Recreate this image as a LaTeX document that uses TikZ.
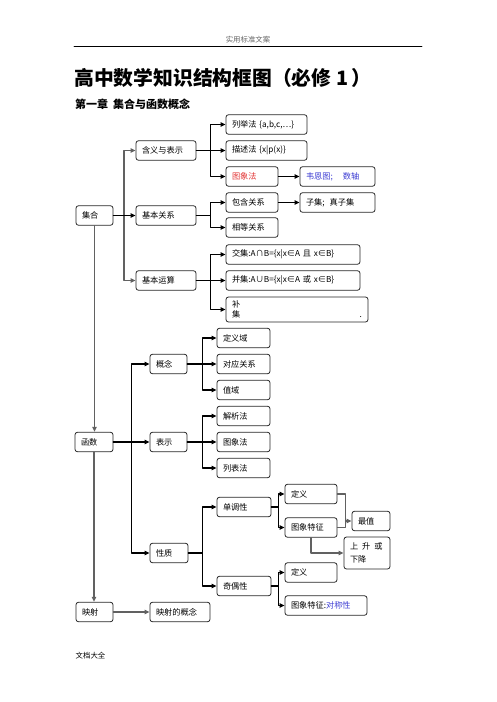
\documentclass[tikz,border=0pt]{standalone}
\usepackage{fontspec}
\newfontfamily\cjk{Noto Sans CJK SC}
\usepackage{tikz}
\usetikzlibrary{arrows.meta}

\definecolor{redtxt}{RGB}{225,50,50}
\definecolor{bluetxt}{RGB}{60,60,210}
\newcommand{\boxfont}{\cjk\fontsize{8.2}{11}\selectfont}
\tikzset{
  box/.style={draw=black!85,line width=0.8pt,rounded corners=2.5pt,inner xsep=6pt,inner ysep=0pt,
    minimum height=19.5pt,align=left,font=\boxfont},
  bline/.style={line width=1.1pt,draw=black},
  gline/.style={line width=1.3pt,draw=black!62}
}

\begin{document}
\begin{tikzpicture}[line cap=round,line join=round,>={Triangle[length=5pt,width=4.4pt]},x=1pt,y=-1pt]
\useasboundingbox (0,0) rectangle (496,702);
% header and titles
\node[text=black!60] (hd) at (248,40) {\cjk\fontsize{7.4}{9}\selectfont 实用标准文案};
\draw [line width=0.7pt] (74,46) -- (422,46);
\node[anchor=west,inner sep=0pt] (tt) at (74,78) {\cjk\bfseries\fontsize{19.8}{22}\selectfont 高中数学知识结构框图（必修\ 1\,）};
\node[anchor=west,inner sep=0pt] (st) at (75,104) {\cjk\bfseries\fontsize{11}{13}\selectfont 第一章\hspace{5pt}集合与函数概念};
% sets
\node[box,text width=25pt] (jh) at (94.5,215.5) {集合};
\node[box,text width=48pt] (hy) at (166,150.5) {含义与表示};
\node[box,text width=48pt] (gx) at (166,215.5) {基本关系};
\node[box,text width=48pt] (ys) at (166,280.5) {基本运算};
\node[box,text width=69pt] (lj) at (266.5,124.5) {列举法\ \{a,b,c,…\}};
\node[box,text width=69pt] (ms) at (266.5,150.5) {描述法\ \{x|p(x)\}};
\node[box,text width=40pt,text=redtxt] (tx) at (252,176.5) {图象法};
\node[box,text width=63pt,text=bluetxt] (wn) at (337.5,176.5) {韦恩图;\hspace{10pt}数轴};
\node[box,text width=40pt] (bh) at (252,202.5) {包含关系};
\node[box,text width=63pt] (zj) at (337.5,202.5) {子集;\hspace{5pt}真子集};
\node[box,text width=40pt] (xd) at (252,227.5) {相等关系};
\node[box,text width=122pt] (jj) at (293,254.5) {交集:A∩B=\{x|x∈A 且 x∈B\}};
\node[box,text width=122pt] (bj) at (293,280.5) {并集:A∪B=\{x|x∈A 或 x∈B\}};
\node[box,text width=130pt,minimum height=25pt,font=\cjk\fontsize{8.2}{10.5}\selectfont] (bu) at (297,309.5) {补\\集\hfill .};
% functions
\node[box,text width=26pt] (hs) at (94,442) {函数};
\node[box,text width=25pt] (gn) at (168.5,364) {概念};
\node[box,text width=25pt] (bs) at (168.5,442) {表示};
\node[box,text width=26pt] (xz) at (169,553) {性质};
\node[box,text width=41pt] (dy) at (243.5,338) {定义域};
\node[box,text width=41pt] (dyg) at (243.5,364) {对应关系};
\node[box,text width=41pt] (zy) at (243.5,390) {值域};
\node[box,text width=41pt] (jx) at (243.5,416) {解析法};
\node[box,text width=41pt] (txf) at (243.5,442) {图象法};
\node[box,text width=41pt] (lb) at (243.5,468) {列表法};
\node[box,text width=42pt] (dd) at (244,507) {单调性};
\node[box,text width=42pt] (jo) at (244,586) {奇偶性};
\node[box,text width=40pt] (dyA) at (311,494) {定义};
\node[box,text width=40pt] (tzA) at (311,527.5) {图象特征};
\node[box,text width=26pt] (zz) at (371,521) {最值};
\node[box,text width=34pt,minimum height=32pt,font=\cjk\fontsize{8.2}{12.5}\selectfont] (ss) at (367,553) {上\hspace{4pt}升\hspace{4pt}或\\下降};
\node[box,text width=40pt] (dyB) at (311,572.5) {定义};
\node[box,text width=70pt] (tzB) at (326,605.5) {图象特征:\textcolor{bluetxt}{对称性}};
% mapping
\node[box,text width=25pt] (yx) at (94.5,612) {映射};
\node[box,text width=48pt] (yxg) at (180,612) {映射的概念};
\node[anchor=west,inner sep=0pt] (ft) at (75.5,656) {\cjk\fontsize{7.4}{9}\selectfont 文档大全};
% connectors, sets
\draw [->,gline] (jh.east) -- +(10.5,0) |- (hy.west);
\draw [->,gline] (jh.east) -- +(10.5,0) |- (ys.west);
\draw [->,bline] (jh.east) -- (gx.west);
\draw [->,bline] (hy.east) -- +(14.5,0) |- (lj.west);
\draw [->,bline] (hy.east) -- +(14.5,0) |- (ms.west);
\draw [->,bline] (hy.east) -- +(14.5,0) |- (tx.west);
\draw [->,bline] (tx.east) -- (wn.west);
\draw [->,bline] (gx.east) -- +(14.5,0) |- (bh.west);
\draw [->,bline] (gx.east) -- +(14.5,0) |- (xd.west);
\draw [->,bline] (bh.east) -- (zj.west);
\draw [->,bline] (ys.east) -- +(14.5,0) |- (jj.west);
\draw [->,bline] (ys.east) -- +(14.5,0) |- (bj.west);
\draw [->,bline] (ys.east) -- +(14.5,0) |- (bu.west);
\draw [->,gline] (jh.south) -- (jh.south |- hs.north);
% connectors, functions
\draw [->,bline] (hs.east) -- +(18,0) |- (gn.west);
\draw [->,bline] (hs.east) -- (bs.west);
\draw [->,bline] (hs.east) -- +(18,0) |- (xz.west);
\draw [->,bline] (gn.east) -- +(15.5,0) |- (dy.west);
\draw [->,bline] (gn.east) -- (dyg.west);
\draw [->,bline] (gn.east) -- +(15.5,0) |- (zy.west);
\draw [->,bline] (bs.east) -- +(15.5,0) |- (jx.west);
\draw [->,bline] (bs.east) -- (txf.west);
\draw [->,bline] (bs.east) -- +(15.5,0) |- (lb.west);
\draw [->,bline] (xz.east) -- +(14.5,0) |- (dd.west);
\draw [->,bline] (xz.east) -- +(14.5,0) |- (jo.west);
\draw [->,bline] (dd.east) -- +(7,0) |- (dyA.west);
\draw [->,bline] (dd.east) -- +(7,0) |- (tzA.west);
\coordinate (zzb) at (345.5,521);
\draw [gline] (dyA.east) -| (zzb);
\draw [gline] (tzA.east) -| (zzb);
\draw [->,gline] (zzb) -- (zz.west);
\draw [->,gline] (tzA.south) |- (ss.west);
\draw [->,bline] (jo.east) -- +(7,0) |- (dyB.west);
\draw [->,bline] (jo.east) -- +(7,0) |- (tzB.west);
% connectors, mapping
\draw [->,gline] (hs.south) -- (hs.south |- yx.north);
\draw [->,gline] (yx.east) -- (yxg.west);
\end{tikzpicture}
\end{document}
